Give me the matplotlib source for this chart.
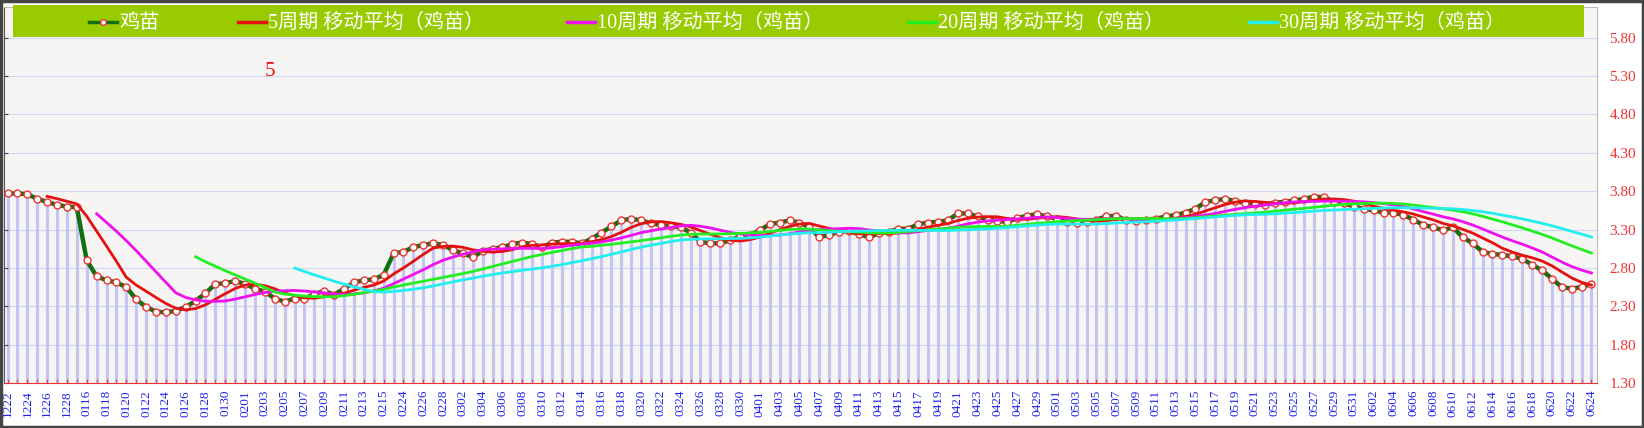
import numpy as np
import pandas as pd
import matplotlib
matplotlib.use("Agg")
import matplotlib.pyplot as plt
from matplotlib.patches import Rectangle
from matplotlib.lines import Line2D

### data (one value per point)
price = [3.77, 3.77, 3.76, 3.70, 3.66, 3.62, 3.60, 3.59, 2.90, 2.69,
         2.64, 2.61, 2.55, 2.39, 2.29, 2.23, 2.22, 2.24, 2.29, 2.37,
         2.47, 2.59, 2.60, 2.63, 2.59, 2.53, 2.49, 2.40, 2.36, 2.40,
         2.40, 2.46, 2.50, 2.45, 2.53, 2.61, 2.64, 2.65, 2.71, 2.99,
         3.01, 3.07, 3.10, 3.12, 3.10, 3.03, 2.99, 2.94, 3.02, 3.05,
         3.07, 3.11, 3.13, 3.11, 3.07, 3.13, 3.14, 3.14, 3.12, 3.18,
         3.26, 3.34, 3.42, 3.44, 3.42, 3.38, 3.36, 3.34, 3.33, 3.26,
         3.14, 3.12, 3.12, 3.16, 3.21, 3.23, 3.29, 3.37, 3.39, 3.42,
         3.39, 3.33, 3.20, 3.23, 3.27, 3.28, 3.24, 3.20, 3.25, 3.27,
         3.31, 3.31, 3.37, 3.39, 3.40, 3.42, 3.51, 3.51, 3.47, 3.43,
         3.41, 3.40, 3.45, 3.48, 3.50, 3.47, 3.44, 3.40, 3.38, 3.40,
         3.43, 3.47, 3.48, 3.42, 3.41, 3.43, 3.44, 3.47, 3.49, 3.52,
         3.57, 3.66, 3.68, 3.70, 3.67, 3.65, 3.63, 3.62, 3.65, 3.66,
         3.68, 3.70, 3.73, 3.72, 3.66, 3.64, 3.60, 3.57, 3.55, 3.52,
         3.52, 3.49, 3.43, 3.36, 3.33, 3.29, 3.33, 3.20, 3.12, 3.01,
         2.98, 2.97, 2.95, 2.92, 2.84, 2.77, 2.66, 2.55, 2.53, 2.55, 2.59]

# every second point carries a date label
date_labels = ['1222', '1224', '1226', '1228', '0116', '0118', '0120', '0122', '0124', '0126',
               '0128', '0130', '0201', '0203', '0205', '0207', '0209', '0211', '0213', '0215',
               '0224', '0226', '0228', '0302', '0304', '0306', '0308', '0310', '0312', '0314',
               '0316', '0318', '0320', '0322', '0324', '0326', '0328', '0330', '0401', '0403',
               '0405', '0407', '0409', '0411', '0413', '0415', '0417', '0419', '0421', '0423',
               '0425', '0427', '0429', '0501', '0503', '0505', '0507', '0509', '0511', '0513',
               '0515', '0517', '0519', '0521', '0523', '0525', '0527', '0529', '0531', '0602',
               '0604', '0606', '0608', '0610', '0612', '0614', '0616', '0618', '0620', '0622',
               '0624']

y_ticks = [1.30, 1.80, 2.30, 2.80, 3.30, 3.80, 4.30, 4.80, 5.30, 5.80]

series_name = '鸡苗'
ma_periods = [5, 10, 20, 30]
ma_colors = ['#e41111', '#ee11ee', '#22ee22', '#22eeee']
legend_labels = [series_name] + [f'{n}周期 移动平均（{series_name}）' for n in ma_periods]

W, H = 1644, 428
CJK = ['Liberation Serif', 'Noto Sans CJK SC', 'DejaVu Sans']


def fx(px):
    return px / W


def fy(py):
    return 1 - py / H


def main():
    x = np.arange(len(price))
    s = pd.Series(price)

    fig = plt.figure(figsize=(W / 100, H / 100), dpi=100)
    fig.patch.set_facecolor('white')

    ax = fig.add_axes([fx(4), fy(383), fx(1593), 376 / H])
    ax.set_facecolor('#f6f5f3')
    ax.set_xlim(-0.354, 160.56)
    ax.set_ylim(1.3, 6.2)

    # horizontal grid + drop lines
    for v in y_ticks:
        ax.axhline(v, color='#d4d4f4', lw=0.8, zorder=0)
    ax.vlines(x, 1.3, price, color='#c4c4f6', lw=2.2, zorder=1)

    # main series
    ax.plot(x, price, color='#107010', lw=3.2, zorder=3,
            marker='o', ms=5, mfc='white', mec='#ee3333', mew=1)

    # moving averages
    for n, c in zip(ma_periods, ma_colors):
        ma = s.rolling(n).mean()
        ax.plot(x, ma, color=c, lw=2, zorder=4)

    # axes styling
    ax.set_xticks(x[::2])
    ax.set_xticks(x[1::2], minor=True)
    ax.set_xticklabels(date_labels, rotation=90, color='#2222ee',
                       fontsize=9.5, family='Liberation Serif')
    ax.tick_params(axis='x', which='both', direction='in', length=3,
                   color='#ee3333', pad=5)
    ax.set_yticks(y_ticks)
    ax.set_yticklabels([f'{v:.2f}' for v in y_ticks], color='#ee3333',
                       fontsize=11, family='Liberation Serif')
    ax.tick_params(axis='y', left=True, right=False, labelleft=False,
                   labelright=True, direction='in', length=3,
                   color='#444444', pad=9)
    ax.spines['bottom'].set_color('#ee3333')
    ax.spines['left'].set_color('#555555')
    ax.spines['top'].set_color('#bbbbbb')
    ax.spines['right'].set_color('#bbbbbb')

    # legend band
    fig.patches.append(Rectangle((fx(13), fy(37)), fx(1571), 32 / H,
                                 transform=fig.transFigure,
                                 facecolor='#99cc00', edgecolor='none', zorder=5))
    handle_x = [89, 238, 567, 908, 1249]
    colors = ['#107010'] + ma_colors
    for hx, lab, c in zip(handle_x, legend_labels, colors):
        ly = fy(21.5)
        fig.add_artist(Line2D([fx(hx), fx(hx + 28)], [ly, ly], color=c, lw=2.5,
                              transform=fig.transFigure, zorder=6))
        if lab == series_name:
            fig.add_artist(Line2D([fx(hx + 14)], [ly], marker='o', ms=4,
                                  mfc='white', mec='#ee3333', mew=1,
                                  transform=fig.transFigure, zorder=7))
        fig.text(fx(hx + 30), fy(23), lab, color='white', fontsize=14.5,
                 family=CJK, va='center', ha='left', zorder=7)

    fig.text(fx(270), fy(71), '5', color='#ee1111', fontsize=15,
             family='Liberation Serif', ha='center', va='center')

    # outer border
    fig.patches.append(Rectangle((0.0008, 0.002), 0.9984, 0.996,
                                 transform=fig.transFigure, fill=False,
                                 edgecolor='#444444', lw=2.5))

    fig.savefig('out.png', dpi=100, facecolor='white')


if __name__ == "__main__":
    main()
